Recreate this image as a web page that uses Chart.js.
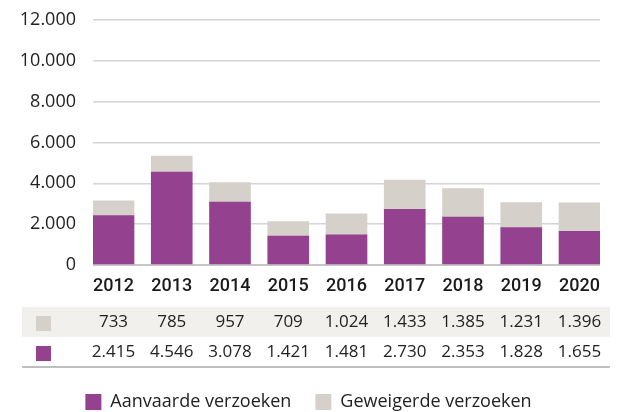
<!DOCTYPE html>
<html>
<head>
<meta charset="utf-8">
<script src="https://cdn.jsdelivr.net/npm/chart.js@4/dist/chart.umd.min.js"></script>
<style>
  html, body { margin: 0; padding: 0; background: #fff; }
  #wrap { width: 617px; height: 412px; }
</style>
</head>
<body>
<div id="wrap"><canvas id="canvas_verzoeken"></canvas></div>
<script>
const years = [2012, 2013, 2014, 2015, 2016, 2017, 2018, 2019, 2020];
const aanvaard = [2415, 4546, 3078, 1421, 1481, 2730, 2353, 1828, 1655];
const geweigerd = [733, 785, 957, 709, 1024, 1433, 1385, 1231, 1396];
const yTicks = [0, 2000, 4000, 6000, 8000, 10000, 12000];

const PURPLE = '#94418f';
const GREY = '#d5d1ca';
const FONT = "'Open Sans', sans-serif";
const BOTTOM_PAD = -9;

// dutch thousands separator
const fmt = v => String(v).replace(/\B(?=(\d{3})+(?!\d))/g, '.');

// table with the values under the year labels
const tablePlugin = {
    id: 'valueTable',
    afterDraw(chart) {
        const ctx = chart.ctx;
        const x = chart.scales.x;
        ctx.save();
        ctx.fillStyle = '#f2f0ec';
        ctx.fillRect(22, 307, 588, 30);
        ctx.strokeStyle = '#aaaaaa';
        ctx.lineWidth = 1.5;
        ctx.beginPath();
        ctx.moveTo(22, 367);
        ctx.lineTo(610, 367);
        ctx.stroke();
        ctx.fillStyle = GREY;
        ctx.fillRect(36, 316, 15, 15);
        ctx.fillStyle = PURPLE;
        ctx.fillRect(36, 346, 15, 15);
        ctx.font = '17px ' + FONT;
        ctx.fillStyle = '#222';
        ctx.textAlign = 'center';
        ctx.textBaseline = 'middle';
        years.forEach((yr, i) => {
            const px = x.getPixelForValue(yr);
            ctx.fillText(fmt(geweigerd[i]), px, 322);
            ctx.fillText(fmt(aanvaard[i]), px, 352);
        });
        ctx.textAlign = 'right';
        ctx.textBaseline = 'bottom';
        ctx.font = '16px ' + FONT;
        ctx.fillText('(n)', 606, 0);
        ctx.restore();
    }
};

const ctx = document.getElementById('canvas_verzoeken').getContext('2d');
const chart = new Chart(ctx, {
    type: 'bar',
    data: {
        labels: years.map(String),
        datasets: [
            {
                label: 'Aanvaarde verzoeken',
                data: aanvaard,
                backgroundColor: PURPLE,
                barThickness: 41
            },
            {
                label: 'Geweigerde verzoeken',
                data: geweigerd,
                backgroundColor: GREY,
                barThickness: 41
            }
        ]
    },
    options: {
        responsive: true,
        maintainAspectRatio: false,
        animation: false,
        layout: { padding: { left: 0, right: 0, top: 20, bottom: BOTTOM_PAD } },
        plugins: {
            legend: {
                position: 'bottom',
                labels: {
                    boxWidth: 16,
                    boxHeight: 16,
                    padding: 24,
                    color: '#222',
                    font: { family: FONT, size: 18 }
                }
            },
            tooltip: { enabled: false }
        },
        scales: {
            x: {
                type: 'linear',
                stacked: true,
                offset: false,
                min: 2012 - 0.352,
                max: 2020 + 0.352,
                afterBuildTicks: s => { s.ticks = years.map(v => ({ value: v })); },
                afterFit: s => { s.height = 412 - BOTTOM_PAD - 265 - s.chart.legend.height; },
                grid: { display: false, drawTicks: false },
                border: { display: false },
                ticks: {
                    padding: 11,
                    color: '#1a1a1a',
                    font: { family: "Roboto, sans-serif", size: 18, weight: '500' },
                    callback: v => String(v)
                }
            },
            y: {
                stacked: true,
                min: 0,
                max: 12000,
                afterBuildTicks: s => { s.ticks = yTicks.map(v => ({ value: v })); },
                afterFit: s => { s.width = 93; s.paddingTop = 0; s.paddingBottom = 0; },
                grid: {
                    drawTicks: false,
                    color: c => c.tick.value === 0 ? '#c6c6c6' : '#d4d4d4',
                    lineWidth: c => c.tick.value === 0 ? 2 : 1.5
                },
                border: { display: false },
                ticks: {
                    padding: 17,
                    color: '#222',
                    font: { family: FONT, size: 18 },
                    callback: v => fmt(v)
                }
            },
            // empty right margin so the legend centres on the full width
            yRight: {
                position: 'right',
                grid: { display: false, drawTicks: false },
                border: { display: false },
                ticks: { display: false },
                afterFit: s => { s.width = 17; s.paddingTop = 0; s.paddingBottom = 0; }
            }
        }
    },
    plugins: [tablePlugin]
});
</script>
</body>
</html>
